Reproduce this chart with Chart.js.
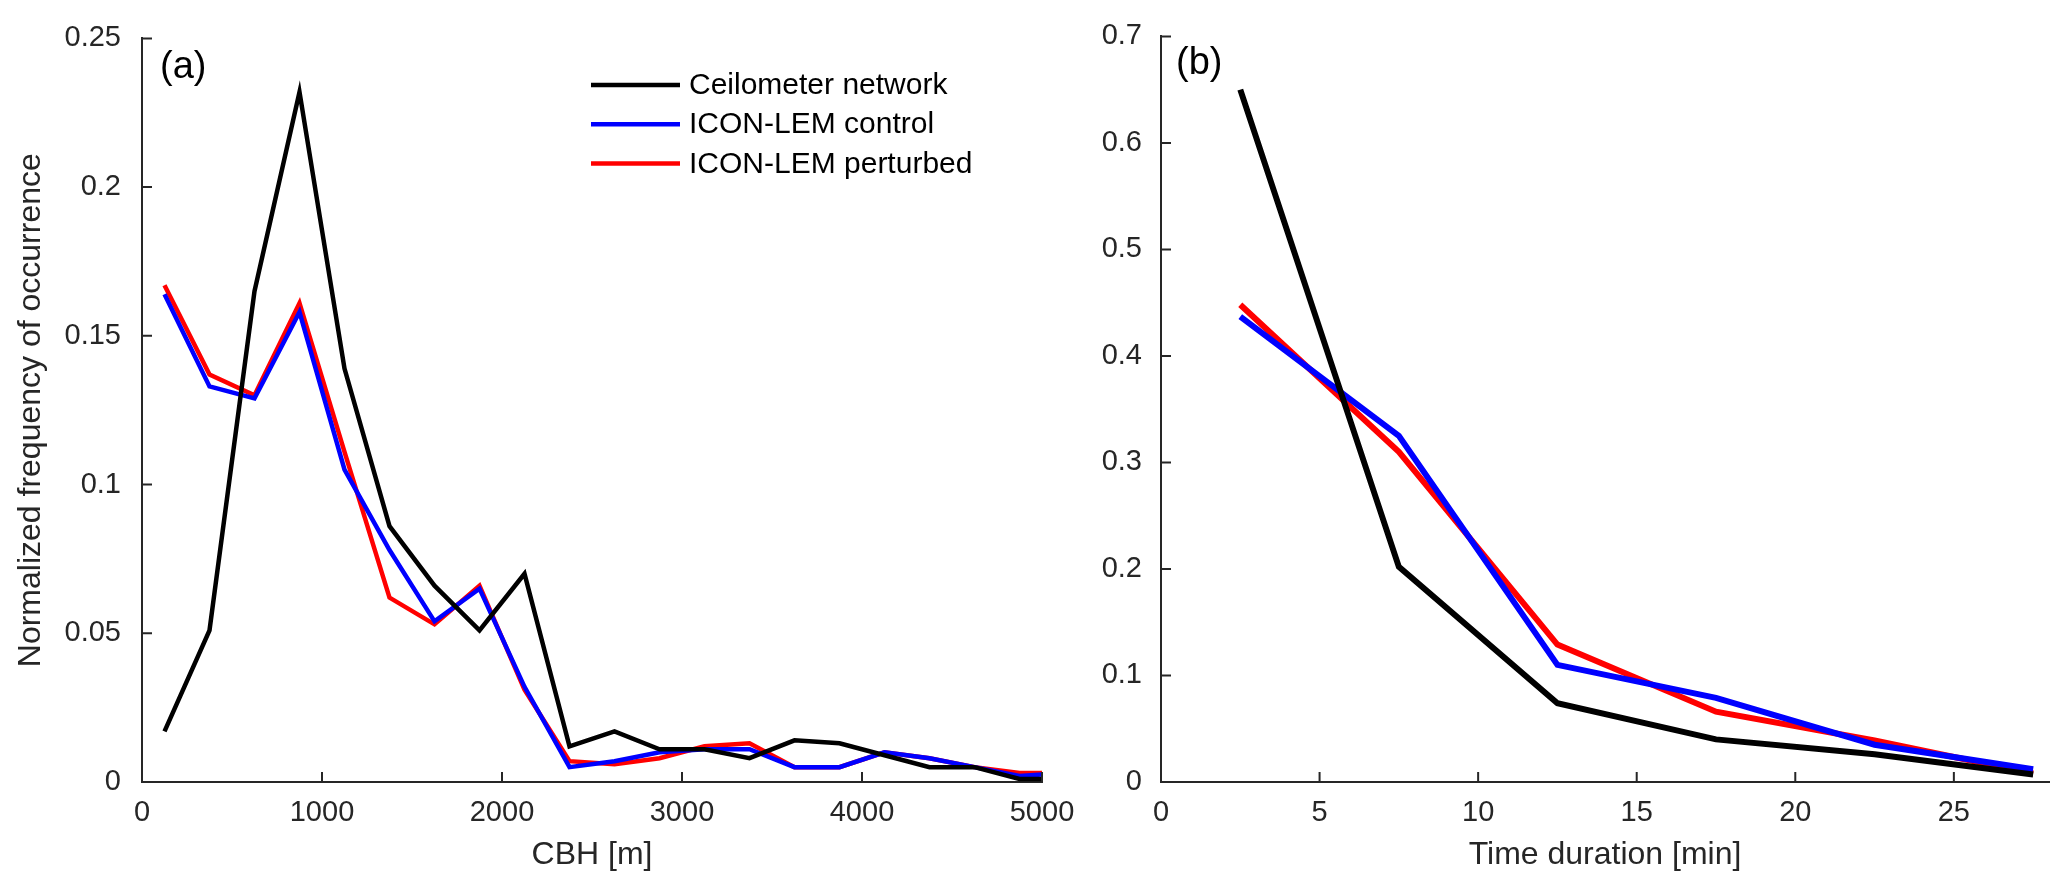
<!DOCTYPE html>
<html lang="en">
<head>
  <meta charset="UTF-8">
  <title>CBH and cloud duration frequency</title>
  <script src="https://cdn.jsdelivr.net/npm/chart.js"></script>
  <style>
    html, body { margin: 0; padding: 0; background: #fff; }
    body { width: 2067px; height: 891px; position: relative; overflow: hidden; }
    canvas { position: absolute; top: 0; }
    #cbhChart { left: 0; }
    #durChart { left: 1060px; }
  </style>
</head>
<body>
  <canvas id="cbhChart" width="1100" height="891"></canvas>
  <canvas id="durChart" width="1007" height="891"></canvas>

  <script>
    // Series names, shared by both panels
    const seriesNames = ['Ceilometer network', 'ICON-LEM control', 'ICON-LEM perturbed'];
    const seriesColors = ['#000000', '#0000ff', '#ff0000'];

    // (a) cloud base height distribution (bin centres in m)
    const cbhBins = [125, 375, 625, 875, 1125, 1375, 1625, 1875, 2125, 2375, 2625,
                     2875, 3125, 3375, 3625, 3875, 4125, 4375, 4625, 4875, 5125];
    const cbhCeilometer = [0.017, 0.051, 0.165, 0.232, 0.139, 0.086, 0.066, 0.051, 0.070, 0.012, 0.017,
                           0.011, 0.011, 0.008, 0.014, 0.013, 0.009, 0.005, 0.005, 0.001, 0.001];
    const cbhControl    = [0.164, 0.133, 0.129, 0.158, 0.105, 0.078, 0.054, 0.065, 0.032, 0.005, 0.007,
                           0.010, 0.011, 0.011, 0.005, 0.005, 0.010, 0.008, 0.005, 0.002, 0.003];
    const cbhPerturbed  = [0.167, 0.137, 0.130, 0.161, 0.111, 0.062, 0.053, 0.066, 0.031, 0.007, 0.006,
                           0.008, 0.012, 0.013, 0.005, 0.005, 0.010, 0.008, 0.005, 0.003, 0.003];
    const cbhXTicks = [0, 1000, 2000, 3000, 4000, 5000];
    const cbhYTicks = [0, 0.05, 0.1, 0.15, 0.2, 0.25];

    // (b) cloud duration distribution (bin centres in min)
    const durBins = [2.5, 7.5, 12.5, 17.5, 22.5, 27.5];
    const durCeilometer = [0.650, 0.202, 0.074, 0.040, 0.026, 0.007];
    const durControl    = [0.437, 0.325, 0.110, 0.079, 0.035, 0.012];
    const durPerturbed  = [0.448, 0.310, 0.129, 0.066, 0.039, 0.008];
    const durXTicks = [0, 5, 10, 15, 20, 25];
    const durYTicks = [0, 0.1, 0.2, 0.3, 0.4, 0.5, 0.6, 0.7];

    const AXIS = '#262626';
    const FONT = "'Liberation Sans', Arial, Helvetica, sans-serif";

    function fixedTicks(values) {
      return function(scale) {
        scale.ticks = values.map(v => ({ value: v }));
      };
    }

    // MATLAB style ticks pointing into the plot
    const innerTicks = {
      id: 'innerTicks',
      afterDraw(chart) {
        const { ctx, chartArea, scales } = chart;
        ctx.save();
        ctx.strokeStyle = AXIS;
        ctx.lineWidth = 2;
        ctx.beginPath();
        scales.x.ticks.forEach(t => {
          const px = scales.x.getPixelForValue(t.value);
          ctx.moveTo(px, chartArea.bottom);
          ctx.lineTo(px, chartArea.bottom - 10);
        });
        scales.y.ticks.forEach(t => {
          const py = scales.y.getPixelForValue(t.value);
          ctx.moveTo(chartArea.left, py);
          ctx.lineTo(chartArea.left + 10, py);
        });
        ctx.stroke();
        ctx.restore();
      }
    };

    // Panel letter and the in-plot legend
    const annotations = {
      id: 'annotations',
      afterDraw(chart, args, opts) {
        const ctx = chart.ctx;
        ctx.save();
        ctx.fillStyle = '#000';
        ctx.font = '38px ' + FONT;
        ctx.textBaseline = 'alphabetic';
        ctx.fillText(opts.letter, opts.letterX, opts.letterY);

        if (opts.key) {
          ctx.font = '30px ' + FONT;
          ctx.textBaseline = 'middle';
          chart.data.datasets.forEach((ds, i) => {
            const y = opts.key.y + i * opts.key.dy;
            ctx.strokeStyle = ds.borderColor;
            ctx.lineWidth = 4.5;
            ctx.beginPath();
            ctx.moveTo(opts.key.x0, y);
            ctx.lineTo(opts.key.x1, y);
            ctx.stroke();
            ctx.fillStyle = '#000';
            ctx.fillText(ds.label, opts.key.tx, y + 1);
          });
        }
        ctx.restore();
      }
    };

    function makeDatasets(xs, series, width) {
      return series.map((ys, i) => ({
        label: seriesNames[i],
        data: xs.map((x, j) => ({ x: x, y: ys[j] })),
        borderColor: seriesColors[i],
        backgroundColor: seriesColors[i],
        borderWidth: width,
        pointRadius: 0,
        tension: 0,
        fill: false
      }));
    }

    function makeChart(id, cfg) {
      return new Chart(document.getElementById(id), {
        type: 'line',
        data: { datasets: makeDatasets(cfg.xs, cfg.series, cfg.lineWidth) },
        options: {
          responsive: false,
          animation: false,
          events: [],
          layout: { padding: { left: 0, right: cfg.padRight, top: cfg.padTop, bottom: 0 } },
          plugins: {
            legend: { display: false },
            tooltip: { enabled: false },
            annotations: cfg.notes
          },
          scales: {
            x: {
              type: 'linear',
              min: cfg.xMin,
              max: cfg.xMax,
              afterBuildTicks: fixedTicks(cfg.xTicks),
              afterFit(s) { s.height = 891 - 782; },
              grid: { display: false, drawTicks: false },
              border: { display: true, color: AXIS, width: 2 },
              ticks: {
                padding: 14, color: AXIS, maxRotation: 0, autoSkip: false,
                font: { family: FONT, size: 29 },
                callback: v => String(v)
              },
              title: {
                display: true, text: cfg.xTitle, color: AXIS,
                font: { family: FONT, size: 32 },
                padding: { top: 0, bottom: 17 }
              }
            },
            y: {
              type: 'linear',
              min: cfg.yMin,
              max: cfg.yMax,
              afterBuildTicks: fixedTicks(cfg.yTicks),
              afterFit(s) { s.width = cfg.yWidth; },
              grid: { display: false, drawTicks: false },
              border: { display: true, color: AXIS, width: 2 },
              ticks: {
                padding: cfg.yPad, color: AXIS, autoSkip: false,
                font: { family: FONT, size: 29 },
                callback: v => String(v)
              },
              title: {
                display: !!cfg.yTitle, text: cfg.yTitle || '', color: AXIS,
                font: { family: FONT, size: 32 },
                padding: { top: 12, bottom: 0 }
              }
            }
          }
        },
        plugins: [innerTicks, annotations]
      });
    }

    makeChart('cbhChart', {
      xs: cbhBins,
      series: [cbhCeilometer, cbhControl, cbhPerturbed],
      lineWidth: 4.5,
      xMin: 0, xMax: 5000, xTicks: cbhXTicks,
      yMin: 0, yMax: 0.25, yTicks: cbhYTicks,
      xTitle: 'CBH [m]',
      yTitle: 'Normalized frequency of occurrence',
      yWidth: 142, yPad: 21,
      padTop: 32, padRight: 58,
      notes: {
        letter: '(a)', letterX: 160, letterY: 78,
        key: { x0: 591, x1: 680, tx: 689, y: 85, dy: 39.2 }
      }
    });

    makeChart('durChart', {
      xs: durBins,
      series: [durCeilometer, durControl, durPerturbed],
      lineWidth: 6,
      xMin: 0, xMax: 28, xTicks: durXTicks,
      yMin: 0, yMax: 0.7, yTicks: durYTicks,
      xTitle: 'Time duration [min]',
      yTitle: '',
      yWidth: 101, yPad: 19,
      padTop: 30, padRight: 18,
      notes: { letter: '(b)', letterX: 116, letterY: 74, key: null }
    });
  </script>
</body>
</html>
